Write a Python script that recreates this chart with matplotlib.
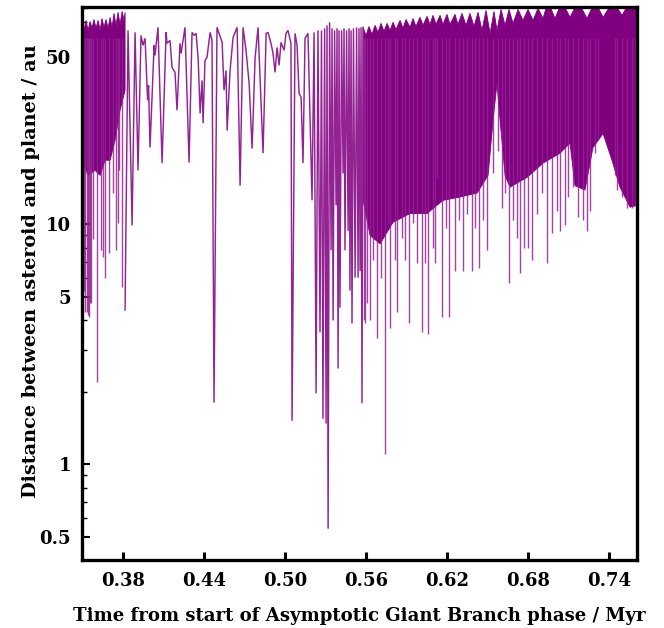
import numpy as np
import matplotlib
matplotlib.use("Agg")
import matplotlib.pyplot as plt
from matplotlib.ticker import FixedLocator, LogLocator, NullFormatter

# ---------------- data ----------------
# Dense band at the start (0.35-0.38 Myr): upper envelope and solid-core lower edge
band1_upper_t = [0.3496, 0.3511, 0.3526, 0.3541, 0.3556, 0.3570, 0.3585, 0.3600, 0.3615, 0.3630,
                 0.3644, 0.3659, 0.3674, 0.3689, 0.3704, 0.3719, 0.3733, 0.3748, 0.3763, 0.3778,
                 0.3793, 0.3807, 0.3815]
band1_upper_d = [69.5, 64.3, 70.8, 64.3, 70.1, 65.6, 71.4, 65.6, 70.8, 64.3,
                 72.1, 66.2, 71.4, 65.6, 72.9, 66.2, 75.7, 67.5, 76.5, 68.1,
                 77.2, 70.8, 76.5]
band1_lower_t = [0.3496, 0.3541, 0.3593, 0.3630, 0.3667, 0.3704, 0.3741, 0.3778, 0.3815]
band1_lower_d = [18.5, 16.0, 16.8, 16.0, 18.5, 18.5, 22.4, 29.9, 36.2]
# close approaches (minima) inside the first dense band
band1_min_t = [0.3511, 0.3519, 0.3533, 0.3541, 0.3548, 0.3556, 0.3563, 0.3578, 0.3607, 0.3637,
               0.3652, 0.3667, 0.3696, 0.3726, 0.3748, 0.3763, 0.3770, 0.3793]
band1_min_d = [5.3, 4.3, 4.3, 4.2, 4.1, 4.7, 4.7, 8.7, 2.2, 7.8,
               7.3, 6.0, 7.6, 13.5, 7.8, 10.1, 16.8, 5.5]

# Resolved oscillations (0.38-0.558 Myr): successive maxima and minima
mid_t = [0.3815, 0.3837, 0.3867, 0.3889, 0.3911, 0.3933, 0.3948, 0.3963, 0.3970, 0.3982,
         0.3989, 0.4000, 0.4030, 0.4037, 0.4059, 0.4089, 0.4119, 0.4126, 0.4148, 0.4163,
         0.4185, 0.4200, 0.4222, 0.4230, 0.4259, 0.4289, 0.4311, 0.4326, 0.4341, 0.4356,
         0.4371, 0.4385, 0.4393, 0.4407, 0.4422, 0.4445, 0.4459, 0.4474, 0.4496, 0.4534,
         0.4548, 0.4563, 0.4571, 0.4593, 0.4615, 0.4645, 0.4667, 0.4689, 0.4711, 0.4734,
         0.4756, 0.4778, 0.4800, 0.4837, 0.4860, 0.4874, 0.4896, 0.4911, 0.4926, 0.4941,
         0.4956, 0.4970, 0.4993, 0.5007, 0.5022, 0.5044, 0.5052, 0.5074, 0.5089, 0.5104,
         0.5119, 0.5133, 0.5148, 0.5170, 0.5200, 0.5215, 0.5230, 0.5244, 0.5259, 0.5270,
         0.5281, 0.5293, 0.5304, 0.5311, 0.5319, 0.5330, 0.5341, 0.5348, 0.5356, 0.5367,
         0.5378, 0.5385, 0.5393, 0.5400, 0.5407, 0.5419, 0.5430, 0.5437, 0.5444, 0.5456,
         0.5467, 0.5474, 0.5481, 0.5489, 0.5496, 0.5507, 0.5519, 0.5530, 0.5541, 0.5548,
         0.5556, 0.5563, 0.5570, 0.5578]
mid_d = [4.4, 64.3, 9.9, 63.1, 16.8, 61.3, 55.7, 59.6, 48.2, 32.9,
         37.9, 20.9, 55.7, 50.6, 66.2, 18.0, 63.1, 56.8, 58.4, 45.1,
         43.0, 29.9, 56.8, 51.6, 66.2, 18.1, 63.1, 61.3, 62.5, 49.6,
         29.0, 39.8, 26.4, 48.2, 49.6, 63.1, 58.4, 1.81, 66.2, 57.3,
         36.2, 43.8, 24.6, 43.8, 60.1, 66.2, 14.5, 66.2, 53.1, 38.7,
         20.7, 49.2, 66.2, 19.8, 62.5, 63.1, 56.8, 51.6, 43.0, 54.6,
         46.0, 57.3, 53.1, 62.5, 64.3, 56.8, 1.52, 62.5, 55.7, 35.2,
         33.8, 18.0, 59.6, 62.5, 12.6, 63.1, 1.98, 64.3, 3.55, 64.3,
         1.55, 65.6, 1.48, 67.5, 0.54, 69.5, 7.8, 65.6, 3.98, 64.3,
         12.0, 65.6, 2.51, 64.3, 4.50, 64.3, 16.3, 65.6, 7.8, 64.3,
         9.4, 65.6, 5.3, 64.3, 3.87, 65.6, 6.0, 66.2, 6.0, 65.6,
         6.4, 66.2, 1.80, 66.2]

# Dense band at the end (0.558-0.76 Myr)
band2_upper_t = [0.5578, 0.5600, 0.5622, 0.5644, 0.5667, 0.5689, 0.5711, 0.5733, 0.5756, 0.5778,
                 0.5800, 0.5822, 0.5852, 0.5874, 0.5896, 0.5926, 0.5948, 0.5970, 0.6000, 0.6022,
                 0.6052, 0.6074, 0.6096, 0.6119, 0.6148, 0.6170, 0.6200, 0.6222, 0.6259, 0.6281,
                 0.6311, 0.6341, 0.6370, 0.6400, 0.6430, 0.6459, 0.6489, 0.6519, 0.6548, 0.6570,
                 0.6600, 0.6630, 0.6659, 0.6689, 0.6726, 0.6763, 0.6800, 0.6837, 0.6874, 0.6911,
                 0.6948, 0.7000, 0.7052, 0.7111, 0.7170, 0.7237, 0.7296, 0.7356, 0.7430, 0.7496,
                 0.7556, 0.7607]
band2_upper_d = [66.2, 61.3, 66.8, 61.9, 67.5, 63.1, 68.8, 63.7, 68.8, 64.3,
                 69.5, 64.9, 70.8, 65.6, 71.4, 66.2, 72.1, 66.8, 72.9, 67.5,
                 73.6, 68.1, 74.3, 68.1, 74.3, 68.1, 75.0, 68.1, 75.0, 68.1,
                 75.7, 67.5, 75.7, 66.8, 76.5, 64.3, 77.9, 62.5, 77.2, 64.3,
                 78.6, 67.5, 78.6, 68.8, 78.6, 70.8, 78.6, 70.8, 79.4, 72.1,
                 85.0, 72.1, 85.0, 72.9, 85.0, 72.1, 85.0, 72.9, 85.0, 74.3,
                 85.0, 79.4]
band2_lower_t = [0.5578, 0.5630, 0.5704, 0.5800, 0.5926, 0.6052, 0.6170, 0.6296, 0.6422, 0.6504,
                 0.6541, 0.6570, 0.6593, 0.6630, 0.6667, 0.6793, 0.6911, 0.7037, 0.7111, 0.7148,
                 0.7222, 0.7281, 0.7356, 0.7422, 0.7481, 0.7556, 0.7607]
band2_lower_d = [12.6, 9.0, 8.3, 10.2, 11.1, 11.1, 12.6, 13.0, 13.5, 16.0,
                 27.1, 38.7, 27.1, 16.0, 14.3, 15.7, 18.0, 19.8, 21.8, 14.5,
                 13.9, 20.9, 23.9, 18.5, 14.3, 11.8, 12.0]
band2_min_t = [0.5585, 0.5593, 0.5607, 0.5630, 0.5652, 0.5681, 0.5711, 0.5741, 0.5763, 0.5778,
               0.5815, 0.5830, 0.5867, 0.5889, 0.5919, 0.5948, 0.5978, 0.6015, 0.6037, 0.6059,
               0.6096, 0.6111, 0.6126, 0.6163, 0.6193, 0.6215, 0.6259, 0.6289, 0.6319, 0.6348,
               0.6385, 0.6407, 0.6437, 0.6467, 0.6496, 0.6541, 0.6578, 0.6607, 0.6630, 0.6659,
               0.6689, 0.6719, 0.6741, 0.6770, 0.6800, 0.6830, 0.6867, 0.6904, 0.6941, 0.6978,
               0.7015, 0.7037, 0.7074, 0.7096, 0.7133, 0.7170, 0.7207, 0.7237, 0.7259, 0.7296,
               0.7319, 0.7444, 0.7459, 0.7496, 0.7533, 0.7570, 0.7593]
band2_min_d = [4.0, 3.9, 4.7, 4.0, 7.1, 3.35, 6.0, 1.11, 10.1, 3.7,
               7.1, 4.3, 8.8, 7.1, 3.9, 10.1, 6.9, 3.55, 6.9, 3.5,
               8.0, 6.9, 15.7, 4.1, 9.7, 4.1, 6.4, 10.4, 6.4, 11.1,
               6.4, 9.7, 6.6, 10.4, 7.8, 16.3, 20.3, 11.7, 13.5, 5.7,
               10.4, 8.8, 6.3, 8.0, 8.0, 7.1, 11.1, 13.5, 6.9, 9.2,
               11.4, 9.4, 9.9, 13.0, 14.3, 10.7, 10.4, 9.4, 11.4, 19.8,
               22.4, 16.0, 13.9, 13.0, 11.7, 11.7, 12.0]

x_ticks = [0.38, 0.44, 0.50, 0.56, 0.62, 0.68, 0.74]
x_tick_labels = ["0.38", "0.44", "0.50", "0.56", "0.62", "0.68", "0.74"]
y_ticks = [0.5, 1, 5, 10, 50]
y_tick_labels = ["0.5", "1", "5", "10", "50"]

# ---------------- drawing ----------------
core_color = "#800080"
line_color = "#932393"
font = "DejaVu Serif"

fig = plt.figure(figsize=(6.64, 6.28), dpi=100)
ax = fig.add_axes([0.1235, 0.1083, 0.8358, 0.8806])

for ut, ud, lt, ld in [(band1_upper_t, band1_upper_d, band1_lower_t, band1_lower_d),
                       (band2_upper_t, band2_upper_d, band2_lower_t, band2_lower_d)]:
    px = np.r_[ut, lt[::-1]]
    py = np.r_[ud, ld[::-1]]
    ax.fill(px, py, color=core_color, lw=0.6, ec=core_color, zorder=2)

for mt, md, ut, ud in [(band1_min_t, band1_min_d, band1_upper_t, band1_upper_d),
                       (band2_min_t, band2_min_d, band2_upper_t, band2_upper_d)]:
    tops = np.minimum(np.interp(mt, ut, ud), 60)
    ax.vlines(mt, md, tops, color=line_color, lw=1.0, alpha=0.85, zorder=2)

ax.plot(mid_t, mid_d, color=line_color, lw=1.05, zorder=3, solid_joinstyle="miter")

ax.set_yscale("log")
ax.set_xlim(0.3496, 0.7607)
ax.set_ylim(0.4, 80.5)

ax.xaxis.set_major_locator(FixedLocator(x_ticks))
ax.set_xticklabels(x_tick_labels)
ax.yaxis.set_major_locator(FixedLocator(y_ticks))
ax.set_yticklabels(y_tick_labels)
ax.yaxis.set_minor_locator(LogLocator(base=10, subs=np.arange(2, 10)))
ax.yaxis.set_minor_formatter(NullFormatter())
ax.xaxis.set_minor_locator(FixedLocator([]))

for s in ax.spines.values():
    s.set_linewidth(2.4)

ax.tick_params(axis="both", which="both", direction="in", top=False, right=False)
ax.tick_params(axis="x", which="major", length=6, width=2.2, pad=9)
ax.tick_params(axis="y", which="major", length=6, width=1.5, pad=8)
ax.tick_params(axis="y", which="minor", length=3.5, width=1.0)

for lab in ax.get_xticklabels() + ax.get_yticklabels():
    lab.set_fontfamily(font)
    lab.set_fontweight("bold")
    lab.set_fontsize(13)

ax.set_xlabel("Time from start of Asymptotic Giant Branch phase / Myr",
              fontfamily=font, fontweight="bold", fontsize=13.1, labelpad=12)
ax.set_ylabel("Distance between asteroid and planet / au",
              fontfamily=font, fontweight="bold", fontsize=13.9)
ax.yaxis.set_label_coords(-0.076, 0.522)

fig.savefig("out.png", dpi=100)
